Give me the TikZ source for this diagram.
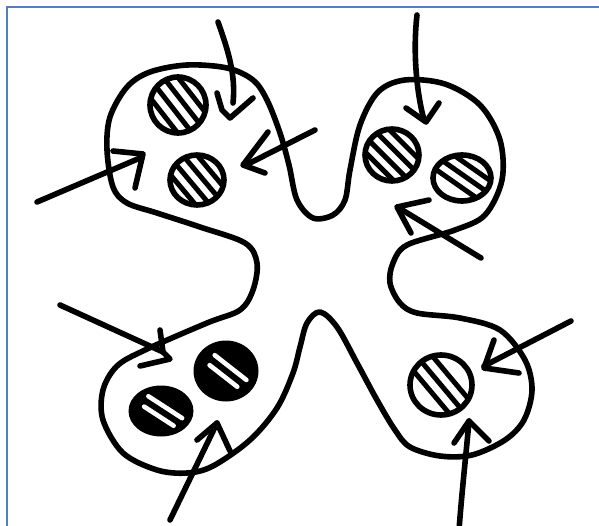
\documentclass[tikz,border=0pt]{standalone}
\usetikzlibrary{calc}
\definecolor{framecol}{RGB}{79,129,189}
\tikzset{
  ink/.style={line width=5.6pt, line cap=round, line join=round, black},
  hatch/.style={line width=5pt, line cap=round, black},
  streak/.style={line width=4.6pt, line cap=round, white},
}
\newcommand\hatchcirc[6]{% x y rx ry angle offsets
  \begin{scope}
    \clip (#1,#2) ellipse [x radius=#3-1, y radius=#4-1];
    \foreach \d in {#6} {
      \draw[hatch, shift={(#1,#2)}, rotate=-#5]
        (-40,\d) -- (40,\d);
    }
  \end{scope}
  \draw[ink] (#1,#2) ellipse [x radius=#3, y radius=#4];
}
\newcommand\darkcirc[5]{% x y rx ry angle
  \fill[black] (#1,#2) ellipse [x radius=#3+2.5, y radius=#4+2.5];
  \draw[streak, shift={(#1,#2)}, rotate=-#5] (-0.62*#3,-5.5) -- (0.72*#3,-5.5);
  \draw[streak, shift={(#1,#2)}, rotate=-#5] (-0.55*#3,5.5) -- (0.62*#3,5.5);
}
\begin{document}
\begin{tikzpicture}[x=1pt,y=-1pt]
\useasboundingbox (0,0) rectangle (599,526);
\fill[white] (0,0) rectangle (599,526);
% frame
\draw[framecol, line width=2pt] (7,527) -- (7,7) -- (600,7);

% outline
\draw[ink] plot[smooth cycle, tension=0.55] coordinates {
 (110,117) (127,87) (150,72) (187,65) (227,68) (253,80) (267,100) (280,133)
 (289,165) (297,200) (313,218) (333,215) (345,200) (350,170) (360,125)
 (378,92) (405,80) (445,84) (480,105) (500,140) (502,180) (485,215)
 (455,230) (407,245) (393,263) (390,283) (400,303) (417,313) (460,318)
 (500,330) (525,360) (532,390) (524,420) (505,440) (472,455) (440,456)
 (410,447) (395,430) (377,400) (357,363) (337,327) (320,312) (307,323)
 (300,347) (293,373) (277,408) (250,440) (213,466) (187,473) (157,470)
 (123,453) (103,420) (103,390) (117,366) (145,350) (207,323) (240,310)
 (253,290) (257,263) (245,243) (200,227) (157,213) (127,203) (113,187)
 (107,150)};

% hatched circles
\hatchcirc{178}{105}{28}{28}{52}{-17,-5.5,6,17.5}
\hatchcirc{197}{180}{27}{25}{50}{-16,-5,6,17}
\hatchcirc{392}{155}{27}{26}{45}{-16,-5,6,17}
\hatchcirc{462}{178}{29}{23}{35}{-14,-3,8}
\hatchcirc{441}{385}{31}{30}{50}{-12,0,12}
\darkcirc{226}{371}{30}{28}{38}
\darkcirc{161}{411}{30}{23}{33}

% arrows: top-left lobe
\coordinate (a1s) at (218,22); \coordinate (a1e) at (233,103);
\draw[ink] (a1s) .. controls (228,50) and (236,75) .. (a1e);
\draw[ink] (217,93) -- (222,110) -- (230,118) -- (253,98);
\coordinate (a2s) at (315,130); \coordinate (a2e) at (246,165);
\draw[ink] (a2s) -- (a2e);
\draw[ink] (268,132) -- (243,165) -- (265,173);
\coordinate (a3s) at (37,202); \coordinate (a3e) at (140,158);
\draw[ink] (a3s) -- (a3e);
\draw[ink] (113,151) -- (143,154) -- (135,188);
% top-right lobe
\coordinate (a4s) at (417,15); \coordinate (a4e) at (424,120);
\draw[ink] (a4s) .. controls (413,50) and (416,90) .. (a4e);
\draw[ink] (406,108) -- (426,122) -- (439,103);
\coordinate (a5s) at (481,258); \coordinate (a5e) at (399,208);
\draw[ink] (a5s) -- (a5e);
\draw[ink] (429,200) -- (397,207) -- (411,233);
% lower-left lobe
\coordinate (a6s) at (60,305); \coordinate (a6e) at (163,352);
\draw[ink] (a6s) -- (a6e);
\draw[ink] (160,330) -- (163,352) -- (170,359) -- (140,366);
\coordinate (a7s) at (170,520); \coordinate (a7e) at (217,423);
\draw[ink] (a7s) -- (a7e);
\draw[ink] (197,440) -- (217,423) -- (230,451);
% lower-right lobe
\coordinate (a8s) at (571,321); \coordinate (a8e) at (484,366);
\draw[ink] (a8s) -- (a8e);
\draw[ink] (494,340) -- (484,368) -- (519,373);
\coordinate (a9s) at (459,530); \coordinate (a9e) at (469,421);
\draw[ink] (a9s) .. controls (462,490) and (466,455) .. (a9e);
\draw[ink] (454,443) -- (469,421) -- (489,441);
\end{tikzpicture}
\end{document}
